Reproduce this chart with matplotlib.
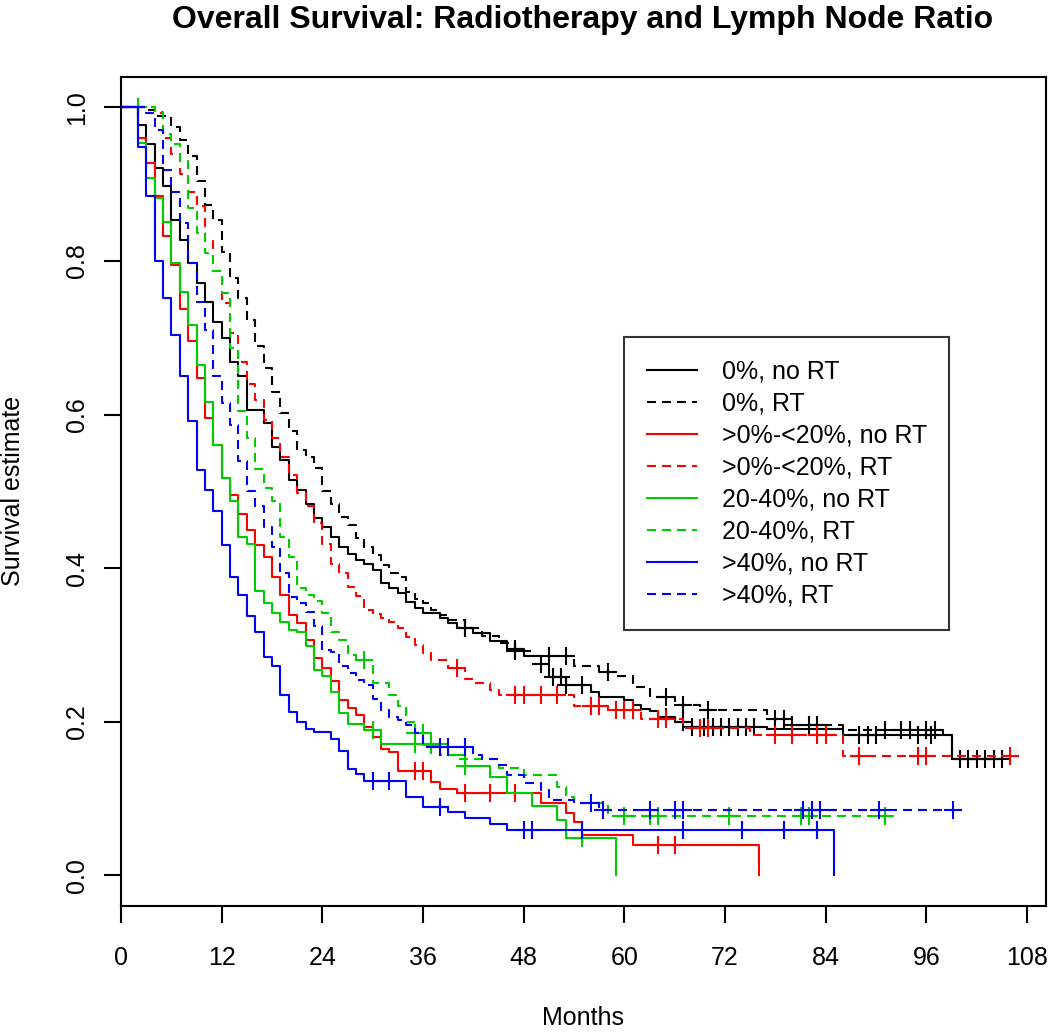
import numpy as np
import matplotlib
matplotlib.use("Agg")
import matplotlib.pyplot as plt
from matplotlib.lines import Line2D

plt.rcParams["font.family"] = ["Liberation Sans", "DejaVu Sans"]

# --- Kaplan-Meier step data (months, survival after each drop) ---
labels = ["0%, no RT", "0%, RT", ">0%-<20%, no RT", ">0%-<20%, RT",
          "20-40%, no RT", "20-40%, RT", ">40%, no RT", ">40%, RT"]
colors = ["black", "black", "#FF0000", "#FF0000", "#00CD00", "#00CD00", "#0000FF", "#0000FF"]
dashed = [False, True, False, True, False, True, False, True]

t_nl0 = [2, 3, 4, 5, 6, 7, 8, 9, 10, 11, 12, 13, 14, 15, 17, 18, 19, 20, 21, 22, 23, 24, 25, 26, 27,
         28, 29, 30, 31, 32, 33, 34, 35, 36, 38, 39, 40, 42, 44, 46, 48, 50, 51, 53, 56, 57, 60, 61,
         62, 63, 64, 66, 68, 77, 86, 99]
s_nl0 = [0.977, 0.952, 0.921, 0.898, 0.853, 0.827, 0.797, 0.771, 0.747, 0.721, 0.700, 0.669, 0.650,
         0.606, 0.589, 0.558, 0.541, 0.515, 0.502, 0.483, 0.465, 0.454, 0.441, 0.428, 0.419, 0.410,
         0.406, 0.398, 0.380, 0.374, 0.367, 0.356, 0.348, 0.341, 0.335, 0.328, 0.322, 0.315, 0.305,
         0.295, 0.285, 0.275, 0.258, 0.248, 0.239, 0.232, 0.228, 0.222, 0.217, 0.214, 0.206, 0.200,
         0.193, 0.190, 0.183, 0.152]
end_nl0 = 105.0
c_nl0 = [41, 47, 50, 51.5, 52.5, 53, 55, 65, 67, 68, 69.5, 70.5, 71.5, 72.5, 73.5, 74.5, 75.5,
         88, 89, 90, 95, 96.5, 100, 101, 103, 105]

t_nl0rt = [3, 4, 6, 7, 8, 9, 10, 11, 12, 13, 14, 15, 16, 17, 18, 19, 20, 21, 22, 23, 24, 25, 26, 27,
           28, 29, 30, 31, 32, 33, 34, 35, 36, 37, 38, 39, 41, 43, 45, 47, 49, 54, 57, 59, 61, 63, 66,
           69, 77, 80, 86, 98, 99]
s_nl0rt = [0.997, 0.989, 0.974, 0.958, 0.937, 0.904, 0.873, 0.854, 0.812, 0.778, 0.752, 0.723, 0.689,
           0.661, 0.630, 0.602, 0.578, 0.554, 0.545, 0.531, 0.500, 0.483, 0.467, 0.456, 0.439, 0.428,
           0.417, 0.404, 0.394, 0.389, 0.369, 0.360, 0.354, 0.345, 0.339, 0.332, 0.322, 0.312, 0.302,
           0.292, 0.285, 0.272, 0.265, 0.260, 0.245, 0.232, 0.222, 0.215, 0.203, 0.196, 0.189, 0.183,
           0.152]
end_nl0rt = 104.0
c_nl0rt = [41, 47, 51, 53, 58, 65, 67, 70, 78, 79, 80, 82, 83, 91, 93, 94, 96, 97, 102, 104]

t_nl1 = [2, 3, 4, 5, 6, 7, 8, 9, 10, 11, 12, 13, 14, 15, 16, 17, 18, 19, 20, 21, 22, 23, 24, 25, 26,
         27, 28, 29, 30, 31, 32, 33, 37, 38, 40, 50, 53, 54, 55, 61, 76]
s_nl1 = [0.960, 0.927, 0.885, 0.832, 0.795, 0.737, 0.696, 0.648, 0.595, 0.560, 0.517, 0.495, 0.471,
         0.450, 0.430, 0.414, 0.389, 0.365, 0.339, 0.329, 0.307, 0.283, 0.270, 0.253, 0.228, 0.218,
         0.209, 0.193, 0.180, 0.165, 0.160, 0.136, 0.121, 0.113, 0.107, 0.094, 0.081, 0.070, 0.053,
         0.039, 0.0]
end_nl1 = 76.0
c_nl1 = [35, 36, 41, 44, 47, 64, 66]

t_nl1rt = [4, 5, 6, 7, 8, 9, 10, 11, 12, 13, 14, 15, 16, 17, 18, 19, 20, 21, 22, 23, 24, 25, 26, 27,
           28, 29, 30, 31, 32, 33, 34, 35, 36, 37, 39, 41, 42, 44, 45, 54, 58, 62, 67, 75, 86]
s_nl1rt = [0.993, 0.960, 0.939, 0.913, 0.890, 0.871, 0.826, 0.787, 0.745, 0.706, 0.669, 0.640, 0.619,
           0.593, 0.569, 0.545, 0.521, 0.498, 0.481, 0.459, 0.432, 0.406, 0.394, 0.376, 0.364, 0.345,
           0.340, 0.335, 0.330, 0.322, 0.310, 0.300, 0.290, 0.281, 0.270, 0.256, 0.250, 0.241, 0.235,
           0.221, 0.215, 0.204, 0.192, 0.183, 0.155]
end_nl1rt = 106.0
c_nl1rt = [40, 47, 48, 50, 52, 56, 57, 59, 60, 61, 64, 65, 69, 70, 78, 80, 83, 84, 88, 95, 96, 106]

t_nl2 = [2, 3, 4, 5, 6, 7, 8, 9, 10, 11, 12, 13, 14, 15, 16, 17, 18, 19, 20, 21, 22, 23, 24, 25, 26,
         27, 29, 31, 39, 41, 44, 46, 49, 52, 53, 59]
s_nl2 = [0.954, 0.908, 0.882, 0.851, 0.797, 0.760, 0.717, 0.665, 0.617, 0.560, 0.517, 0.488, 0.441,
         0.431, 0.370, 0.355, 0.341, 0.330, 0.320, 0.317, 0.298, 0.267, 0.259, 0.239, 0.211, 0.197,
         0.189, 0.171, 0.157, 0.142, 0.128, 0.107, 0.090, 0.072, 0.048, 0.0]
end_nl2 = 59.0
c_nl2 = [30, 35, 37, 41, 55]

t_nl2rt = [4, 5, 6, 7, 8, 9, 10, 11, 12, 13, 14, 15, 16, 17, 18, 19, 20, 21, 22, 23, 24, 25, 26, 27,
           28, 30, 32, 33, 34, 35, 37, 38, 40, 45, 48, 52, 53, 54, 58]
s_nl2rt = [0.994, 0.965, 0.952, 0.930, 0.869, 0.837, 0.810, 0.787, 0.758, 0.687, 0.604, 0.569, 0.529,
           0.505, 0.487, 0.441, 0.415, 0.374, 0.365, 0.357, 0.341, 0.317, 0.306, 0.287, 0.280, 0.250,
           0.235, 0.220, 0.200, 0.185, 0.170, 0.157, 0.151, 0.140, 0.130, 0.115, 0.102, 0.094, 0.077]
end_nl2rt = 91.0
c_nl2rt = [2, 29, 35, 36, 37, 60, 63, 64, 72.5, 81, 82, 91]

t_nl3 = [2, 3, 4, 5, 6, 7, 8, 9, 10, 11, 12, 13, 14, 15, 16, 17, 18, 19, 20, 21, 22, 23, 25, 26, 27,
         28, 29, 34, 36, 39, 41, 44, 46, 85]
s_nl3 = [0.949, 0.884, 0.800, 0.752, 0.704, 0.650, 0.591, 0.528, 0.502, 0.475, 0.430, 0.389, 0.365,
         0.338, 0.317, 0.284, 0.272, 0.235, 0.212, 0.200, 0.191, 0.186, 0.178, 0.162, 0.138, 0.132,
         0.123, 0.102, 0.089, 0.082, 0.074, 0.0665, 0.0596, 0.0]
end_nl3 = 85.0
c_nl3 = [30, 32, 38, 48, 49, 55, 67, 74, 79, 83]

t_nl3rt = [3, 4, 5, 6, 7, 8, 9, 10, 11, 12, 13, 14, 15, 16, 17, 18, 19, 20, 21, 22, 23, 24, 25, 26,
           27, 28, 29, 30, 31, 32, 33, 34, 35, 36, 42, 43, 45, 46, 48, 50, 51, 54, 57]
s_nl3rt = [0.993, 0.971, 0.918, 0.890, 0.850, 0.798, 0.747, 0.710, 0.650, 0.615, 0.587, 0.540, 0.500,
           0.481, 0.454, 0.428, 0.394, 0.363, 0.355, 0.343, 0.324, 0.294, 0.291, 0.272, 0.263, 0.254,
           0.248, 0.230, 0.215, 0.206, 0.202, 0.196, 0.185, 0.167, 0.157, 0.152, 0.143, 0.130, 0.120,
           0.111, 0.098, 0.094, 0.085]
end_nl3rt = 99.2
c_nl3rt = [38, 39, 41, 56, 57.4, 63, 66, 67, 81.3, 82.3, 83.3, 90.3, 99.2]

times = [t_nl0, t_nl0rt, t_nl1, t_nl1rt, t_nl2, t_nl2rt, t_nl3, t_nl3rt]
survs = [s_nl0, s_nl0rt, s_nl1, s_nl1rt, s_nl2, s_nl2rt, s_nl3, s_nl3rt]
ends = [end_nl0, end_nl0rt, end_nl1, end_nl1rt, end_nl2, end_nl2rt, end_nl3, end_nl3rt]
censors = [c_nl0, c_nl0rt, c_nl1, c_nl1rt, c_nl2, c_nl2rt, c_nl3, c_nl3rt]

x_ticks = [0, 12, 24, 36, 48, 60, 72, 84, 96, 108]
y_ticks = [0.0, 0.2, 0.4, 0.6, 0.8, 1.0]

DASH = (4.3, 2.9)


def surv_at(t, tt, ss):
    """Survival value of a step curve at time t."""
    idx = np.searchsorted(tt, t, side="right") - 1
    return 1.0 if idx < 0 else ss[idx]


fig = plt.figure(figsize=(10.5, 10.32), dpi=100)
ax = fig.add_axes([121 / 1050, 1 - 906 / 1032, (1045.6 - 121) / 1050, (906 - 76.7) / 1032])

for tt, ss, tend, cc, col, ds in zip(times, survs, ends, censors, colors, dashed):
    x = [0.0] + list(tt)
    y = [1.0] + list(ss)
    if tt[-1] < tend:
        x.append(tend)
        y.append(ss[-1])
    line, = ax.step(x, y, where="post", color=col, lw=1.5)
    if ds:
        line.set_dashes(DASH)
    cy = [surv_at(c, tt, ss) for c in cc]
    ax.plot(cc, cy, ls="none", marker="+", ms=13, mew=1.5, color=col)

ax.set_xlim(0, 110.2)
ax.set_ylim(-0.04, 1.04)
ax.set_xticks(x_ticks)
ax.set_xticklabels([str(v) for v in x_ticks])
ax.set_yticks(y_ticks)
ax.set_yticklabels([f"{v:.1f}" for v in y_ticks])
ax.tick_params(axis="both", direction="out", length=12, width=1.5, labelsize=18)
ax.tick_params(axis="x", pad=17)
ax.tick_params(axis="y", pad=11, labelrotation=90)
for lab in ax.get_yticklabels():
    lab.set_va("center")
for sp in ax.spines.values():
    sp.set_linewidth(1.5)

fig.text(583 / 1050, 1 - 20 / 1032, "Overall Survival: Radiotherapy and Lymph Node Ratio",
         ha="center", va="center", fontsize=23, fontweight="bold")
fig.text(583 / 1050, 1 - 1025 / 1032, "Months", ha="center", va="baseline", fontsize=18)
fig.text(13 / 1050, 1 - 491 / 1032, "Survival estimate", ha="center", va="center",
         rotation=90, fontsize=18)

handles = []
for col, ds in zip(colors, dashed):
    h = Line2D([0], [0], color=col, lw=1.5)
    if ds:
        h.set_dashes(DASH)
    handles.append(h)
leg = fig.legend(handles, labels, loc="upper left", bbox_to_anchor=(624 / 1050, 1 - 337 / 1032),
                 fontsize=18, frameon=True, fancybox=False, edgecolor="black",
                 handlelength=2.0, handletextpad=1.0, labelspacing=0.32, borderpad=0.9,
                 borderaxespad=0)
leg.get_frame().set_linewidth(1.5)

fig.savefig("out.png", dpi=100, facecolor="white")
